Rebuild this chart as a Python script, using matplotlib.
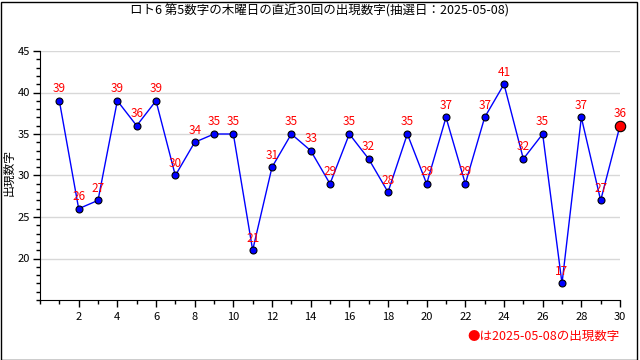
import matplotlib.pyplot as plt
from matplotlib.ticker import MultipleLocator
from matplotlib.patches import Rectangle

plt.rcParams['font.family'] = ['Noto Sans CJK JP', 'DejaVu Sans']

# 直近30回の第5数字
draws = list(range(1, 31))
numbers = [39, 26, 27, 39, 36, 39, 30, 34, 35, 35, 21, 31, 35, 33, 29,
           35, 32, 28, 35, 29, 37, 29, 37, 41, 32, 35, 17, 37, 27, 36]
title = 'ロト6 第5数字の木曜日の直近30回の出現数字(抽選日：2025-05-08)'
note = '●は2025-05-08の出現数字'

fig = plt.figure(figsize=(6.4, 3.6), dpi=100)
ax = fig.add_axes([40 / 640, 60 / 360, 580 / 640, 249 / 360])

ax.plot(draws, numbers, color='blue', lw=1, zorder=2)
ax.plot(draws[:-1], numbers[:-1], 'o', ms=5, mfc='blue', mec='black', mew=0.8, zorder=3)
ax.plot(draws[-1:], numbers[-1:], 'o', ms=7.5, mfc='red', mec='black', mew=0.8,
        zorder=3, clip_on=False)

for x, y in zip(draws, numbers):
    ax.annotate(str(y), (x, y), xytext=(0, 4), textcoords='offset points',
                ha='center', va='bottom', color='red', fontsize=8.5, zorder=4)

ax.set_xlim(0, 30)
ax.set_ylim(15, 45)
ax.set_yticks([20, 25, 30, 35, 40, 45])
ax.yaxis.set_minor_locator(MultipleLocator(1))
ax.set_xticks(range(2, 31, 2))
ax.xaxis.set_minor_locator(MultipleLocator(1))
ax.tick_params(labelsize=8, length=5, width=1)
ax.tick_params(axis='y', pad=2)
ax.tick_params(which='minor', length=3, width=1)
ax.grid(axis='y', color='#d8d8d8', lw=1, zorder=0)
for s in ['top', 'right']:
    ax.spines[s].set_visible(False)

fig.text(9 / 640, 1 - 172 / 360, '出現数字', rotation=90, ha='center', va='center', fontsize=8.5)
fig.text(0.5, 1 - 11 / 360, title, ha='center', va='center', fontsize=9)
fig.text(620 / 640, 1 - 336 / 360, note, ha='right', va='center', color='red', fontsize=9)
fig.patches.append(Rectangle((0.5 / 640, 0.5 / 360), 636 / 640, 358 / 360,
                             transform=fig.transFigure, fill=False, ec='black', lw=1))

fig.savefig('out.png', dpi=100)
